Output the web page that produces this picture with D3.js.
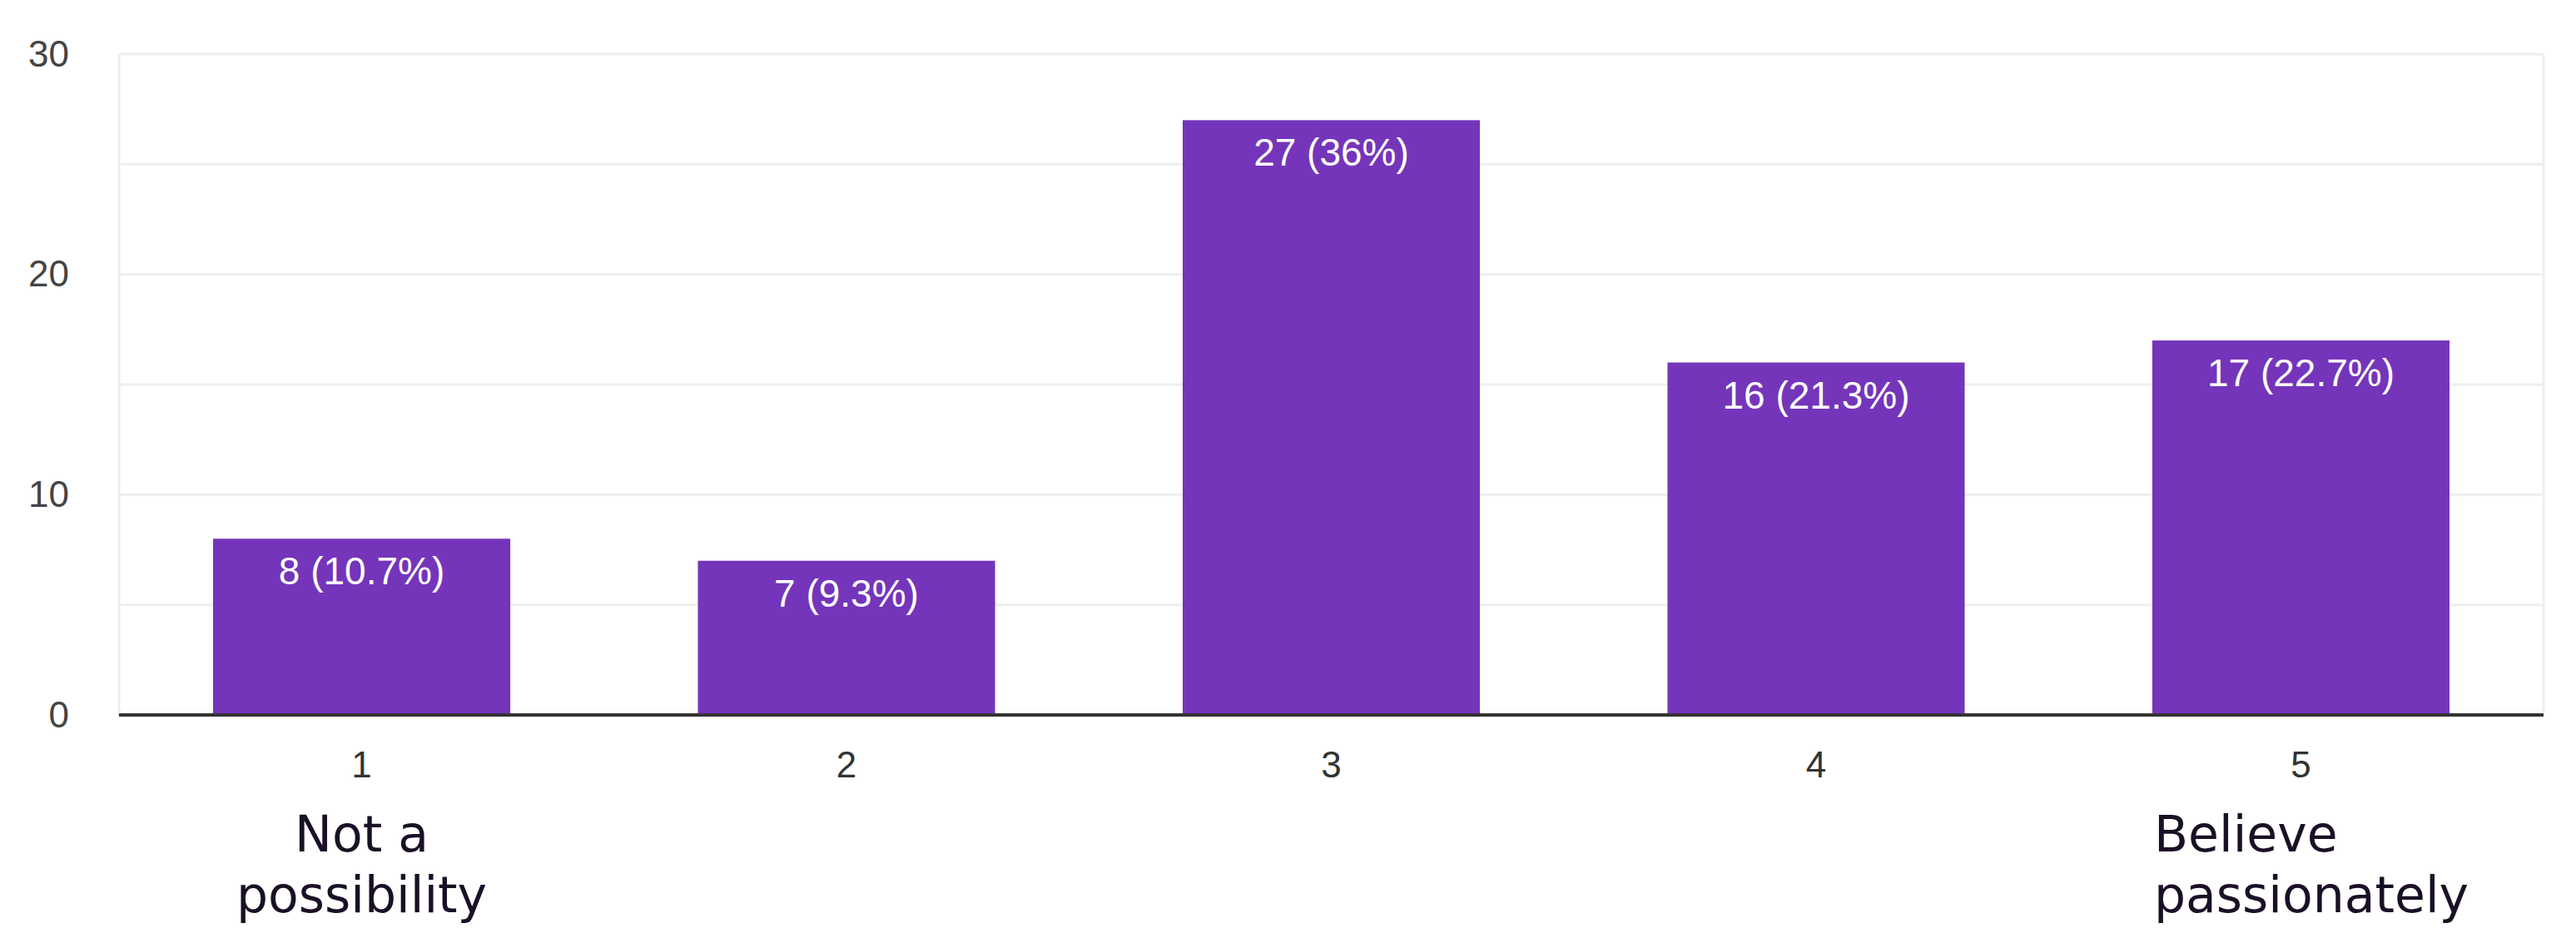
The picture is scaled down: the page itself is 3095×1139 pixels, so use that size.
<!DOCTYPE html>
<html><head><meta charset="utf-8">
<script src="https://cdn.jsdelivr.net/npm/d3@7"></script>
<style>body{margin:0;background:#fff}</style></head>
<body><svg id="c" width="3095" height="1139"></svg>
<script>
const categories = ["1","2","3","4","5"];
const values = [8, 7, 27, 16, 17];
const labels = ["8 (10.7%)","7 (9.3%)","27 (36%)","16 (21.3%)","17 (22.7%)"];
const yTicks = [0,10,20,30];
const gridTicks = [0,5,10,15,20,25,30];

const svg = d3.select("#c");
const L=143, R=3056, T=65, B=859;
const x = d3.scaleBand().domain(categories).range([L,R]).paddingInner(0.387).paddingOuter(0.194);
const y = d3.scaleLinear().domain([0,30]).range([B,T]);

svg.append("g").selectAll("line").data(gridTicks).join("line")
 .attr("x1",L).attr("x2",R).attr("y1",d=>y(d)).attr("y2",d=>y(d))
 .attr("stroke","#eeeeee").attr("stroke-width",3);
svg.append("line").attr("x1",L).attr("x2",L).attr("y1",T).attr("y2",B).attr("stroke","#eeeeee").attr("stroke-width",3);
svg.append("line").attr("x1",R).attr("x2",R).attr("y1",T).attr("y2",B).attr("stroke","#eeeeee").attr("stroke-width",3);

const ff = "Arial, Liberation Sans, sans-serif";
const yAxis = d3.axisLeft(y).tickValues(yTicks).tickSize(0).tickPadding(60);
const ga = svg.append("g").attr("transform",`translate(${L},0)`).call(yAxis);
ga.select(".domain").remove();
ga.selectAll("text").attr("font-family",ff).attr("font-size",44).attr("fill","#444");

svg.append("g").selectAll("rect").data(values).join("rect")
 .attr("x",(d,i)=>x(categories[i])).attr("width",x.bandwidth())
 .attr("y",d=>y(d)).attr("height",d=>B-y(d)).attr("fill","#7435ba");

svg.append("g").selectAll("text").data(values).join("text")
 .attr("x",(d,i)=>x(categories[i])+x.bandwidth()/2).attr("y",d=>y(d)+55)
 .attr("text-anchor","middle").attr("font-family",ff)
 .attr("font-size",46).attr("fill","#fff").text((d,i)=>labels[i]);

svg.append("line").attr("x1",L).attr("x2",R).attr("y1",B).attr("y2",B).attr("stroke","#333").attr("stroke-width",4);

const xAxis = d3.axisBottom(x).tickSize(0).tickPadding(44);
const gx = svg.append("g").attr("transform",`translate(0,${B})`).call(xAxis);
gx.select(".domain").remove();
gx.selectAll("text").attr("font-family",ff).attr("font-size",44).attr("fill","#333");

const f = "Verdana, DejaVu Sans, sans-serif";
const c1 = x("1")+x.bandwidth()/2;
svg.append("text").attr("x",c1).attr("y",1023).attr("text-anchor","middle").attr("font-family",f).attr("font-size",60).attr("fill","#1a1026").text("Not a");
svg.append("text").attr("x",c1).attr("y",1096).attr("text-anchor","middle").attr("font-family",f).attr("font-size",60).attr("fill","#1a1026").text("possibility");
const l5 = x("5")+2;
svg.append("text").attr("x",l5).attr("y",1023).attr("font-family",f).attr("font-size",60).attr("fill","#1a1026").text("Believe");
svg.append("text").attr("x",l5).attr("y",1096).attr("font-family",f).attr("font-size",60).attr("fill","#1a1026").text("passionately");
</script></body></html>
